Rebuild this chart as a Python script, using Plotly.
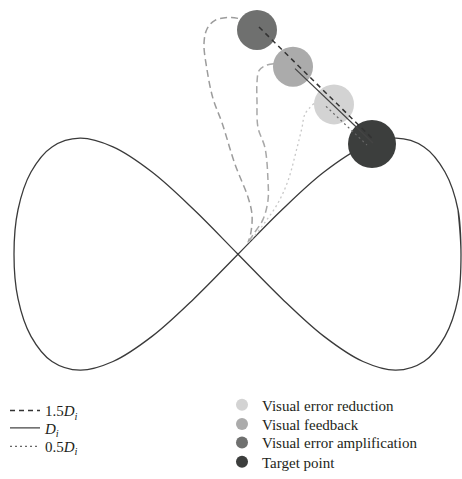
import plotly.graph_objects as go

# Figure-eight trajectory (pixel-like coordinates, y downwards)
track_x = [461, 458, 445, 424, 396, 363, 324, 282, 238, 194, 152, 113, 80, 52, 31, 18, 14,
           18, 31, 52, 80, 113, 152, 194, 238, 282, 324, 363, 396, 424, 445, 458, 461, 458]
track_y = [263, 217, 178, 152, 143, 152, 178, 217, 263, 309, 348, 374, 383, 374, 348, 309, 263,
           217, 178, 152, 143, 152, 178, 217, 263, 309, 348, 374, 383, 374, 348, 309, 263, 217]

# Curved paths from the track to each displayed point
amp_path_x = [238, 231, 215, 207, 204, 207, 213, 222, 235, 248, 252, 251, 248]
amp_path_y = [19, 18, 21, 30, 45, 72, 102, 127, 170, 204, 222, 240, 251]
fb_path_x = [274, 265, 259, 257, 257, 258, 265, 268, 268, 263, 253, 248]
fb_path_y = [66, 68, 73, 85, 105, 132, 153, 187, 207, 227, 243, 251]
red_path_x = [314, 305, 302, 297, 288, 278, 265, 252, 248]
red_path_y = [107, 118, 132, 153, 187, 210, 230, 247, 251]

# Straight distance segments
d15_x = [259, 374]
d15_y = [28, 145]
d10_x = [295, 373]
d10_y = [71, 148]
d05_x = [326, 367]
d05_y = [110, 150]

# Points
point_names = ["Visual error reduction", "Visual feedback", "Visual error amplification", "Target point"]
point_x = [334, 293, 257, 372]
point_y = [108, 69, 31, 149]
point_size = [40, 40, 40, 48]
point_color = ["#d3d3d3", "#ababab", "#6f706f", "#3c3e3d"]

line_labels = ["1.5<i>D</i><sub><i>i</i></sub>", "<i>D</i><sub><i>i</i></sub>", "0.5<i>D</i><sub><i>i</i></sub>"]

# legend rows (pixel rows of the legend entries; right column compressed to fit the page bottom)
line_legend_rows = [410, 428, 447]
point_legend_rows = [404, 424, 443, 463]

H = 479
W = 462
ROW_SHIFT = 15  # legend box middle sits below the entry row

fig = go.Figure()

fig.add_trace(go.Scatter(x=track_x, y=track_y, mode="lines",
                         line=dict(color="#3a3a3a", width=1.3, shape="spline", smoothing=1.0),
                         showlegend=False, hoverinfo="skip"))
fig.add_trace(go.Scatter(x=amp_path_x, y=amp_path_y, mode="lines",
                         line=dict(color="#9c9c9c", width=1.5, dash="7px,4px", shape="spline"),
                         showlegend=False, hoverinfo="skip"))
fig.add_trace(go.Scatter(x=fb_path_x, y=fb_path_y, mode="lines",
                         line=dict(color="#a8a8a8", width=1.5, dash="7px,4px", shape="spline"),
                         showlegend=False, hoverinfo="skip"))
fig.add_trace(go.Scatter(x=red_path_x, y=red_path_y, mode="lines",
                         line=dict(color="#c8c8c8", width=1.3, dash="2px,3px", shape="spline"),
                         showlegend=False, hoverinfo="skip"))

point_legend_ids = ["legend4", "legend5", "legend6", "legend7"]
for i in range(len(point_names)):
    fig.add_trace(go.Scatter(x=[point_x[i]], y=[point_y[i]], mode="markers",
                             marker=dict(size=point_size[i], color=point_color[i], line=dict(width=0)),
                             name=point_names[i], legend=point_legend_ids[i], showlegend=True))

fig.add_trace(go.Scatter(x=d15_x, y=d15_y, mode="lines",
                         line=dict(color="#333333", width=1.5, dash="5px,4px"),
                         name=line_labels[0], showlegend=True, legend="legend"))
fig.add_trace(go.Scatter(x=d10_x, y=d10_y, mode="lines",
                         line=dict(color="#444444", width=1.3),
                         name=line_labels[1], showlegend=True, legend="legend2"))
fig.add_trace(go.Scatter(x=d05_x, y=d05_y, mode="lines",
                         line=dict(color="#666666", width=1.2, dash="2px,3px"),
                         name=line_labels[2], showlegend=True, legend="legend3"))

legend_font = dict(family="Liberation Serif", size=15, color="#231f20")
legends = {}
for k, row in enumerate(line_legend_rows):
    key = "legend" if k == 0 else "legend%d" % (k + 1)
    legends[key] = dict(x=5 / W, y=1 - (row + ROW_SHIFT) / H, xanchor="left", yanchor="middle",
                        font=legend_font, bgcolor="rgba(0,0,0,0)")
for k, row in enumerate(point_legend_rows):
    key = point_legend_ids[k]
    legends[key] = dict(x=222 / W, y=max(0.0, 1 - (row + ROW_SHIFT) / H), xanchor="left",
                        yanchor="middle", font=legend_font, bgcolor="rgba(0,0,0,0)",
                        itemsizing="constant")

fig.update_layout(
    width=W, height=H,
    margin=dict(l=0, r=0, t=0, b=0),
    paper_bgcolor="white", plot_bgcolor="white",
    xaxis=dict(range=[0, W], visible=False, fixedrange=True),
    yaxis=dict(range=[H, 0], visible=False, fixedrange=True),
    showlegend=True,
    **legends,
)

fig.write_html("out.html")
